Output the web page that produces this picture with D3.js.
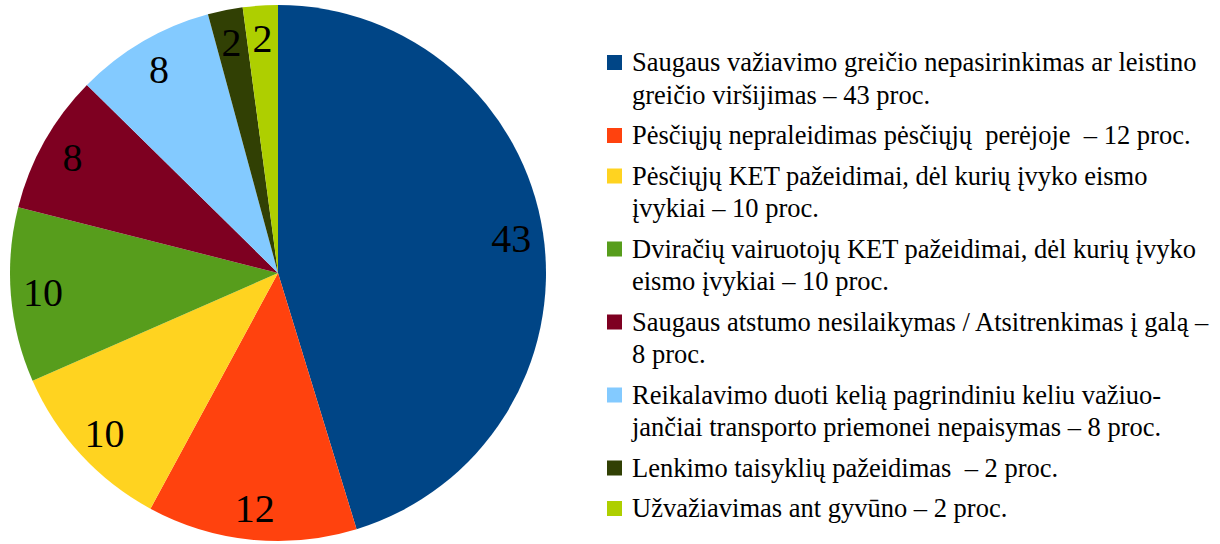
<!DOCTYPE html>
<html>
<head>
<meta charset="utf-8">
<script src="https://cdn.jsdelivr.net/npm/d3@7"></script>
<style>
  body { margin: 0; background: #fff; }
</style>
</head>
<body>
<div id="chart"></div>
<script>
// slice values (percent)
var values = [43, 12, 10, 10, 8, 8, 2, 2];

// legend text, already broken into lines like the original
var categories = [
    ["Saugaus važiavimo greičio nepasirinkimas ar leistino", "greičio viršijimas – 43 proc."],
    ["Pėsčiųjų nepraleidimas pėsčiųjų  perėjoje  – 12 proc."],
    ["Pėsčiųjų KET pažeidimai, dėl kurių įvyko eismo", "įvykiai – 10 proc."],
    ["Dviračių vairuotojų KET pažeidimai, dėl kurių įvyko", "eismo įvykiai – 10 proc."],
    ["Saugaus atstumo nesilaikymas / Atsitrenkimas į galą –", "8 proc."],
    ["Reikalavimo duoti kelią pagrindiniu keliu važiuo-", "jančiai transporto priemonei nepaisymas – 8 proc."],
    ["Lenkimo taisyklių pažeidimas  – 2 proc."],
    ["Užvažiavimas ant gyvūno – 2 proc."]
];

var colours = ["#004586", "#ff420e", "#ffd320", "#579d1c", "#7e0021", "#83caff", "#314004", "#aecf00"];

var cx = 278, cy = 273, radius = 268;

var svg = d3.select("#chart")
    .append("svg")
    .attr("width", 1220)
    .attr("height", 544);

var pie = d3.pie()
    .sort(null)
    .value(function(d) { return d; });

var arcs = pie(values);

var arc = d3.arc()
    .innerRadius(0)
    .outerRadius(radius);

//label ring, inside the slices
var labelArc = d3.arc()
    .innerRadius(radius * 0.88)
    .outerRadius(radius * 0.88);

var g = svg.append("g")
    .attr("transform", "translate(" + cx + "," + cy + ")");

g.selectAll("path.slice")
    .data(arcs)
    .enter()
    .append("path")
    .attr("class", "slice")
    .attr("d", arc)
    .attr("fill", function(d, i) { return colours[i]; });

g.selectAll("text.label")
    .data(arcs)
    .enter()
    .append("text")
    .attr("class", "label")
    .attr("transform", function(d) {
        return "translate(" + labelArc.centroid(d) + ")";
    })
    .attr("text-anchor", "middle")
    .attr("dy", 14)
    .attr("font-family", "Liberation Serif")
    .attr("font-size", 40)
    .attr("fill", "#000")
    .text(function(d) { return d.value; });

// legend
var legendX = 607, textX = 632;
var lineStep = 32.5, entryGap = 40.5;
var ly = 71;

categories.forEach(function(lines, i) {
    svg.append("rect")
        .attr("x", legendX)
        .attr("y", ly - 16)
        .attr("width", 15)
        .attr("height", 15)
        .attr("fill", colours[i]);

    lines.forEach(function(line, j) {
        svg.append("text")
            .attr("x", textX)
            .attr("y", ly + j * lineStep)
            .attr("font-family", "Liberation Serif")
            .attr("font-size", 26.5)
            .attr("fill", "#000")
            .attr("xml:space", "preserve")
            .text(line);
    });
    ly += (lines.length - 1) * lineStep + entryGap;
});
</script>
</body>
</html>
